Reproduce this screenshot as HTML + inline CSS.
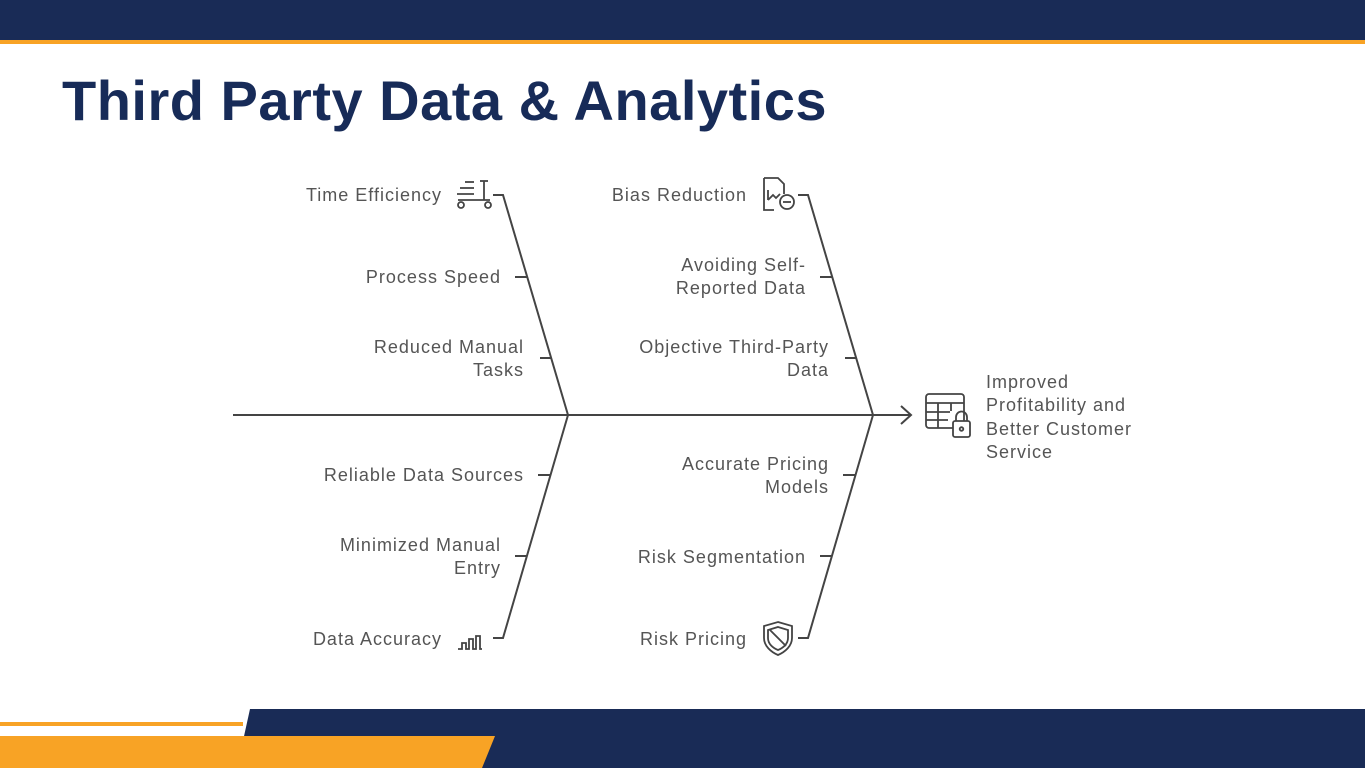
<!DOCTYPE html>
<html><head><meta charset="utf-8"><style>
body{margin:0;width:1365px;height:768px;overflow:hidden;background:#fff;position:relative;font-family:"Liberation Sans",sans-serif}
.t{position:absolute;left:62px;top:68px;font-size:56px;font-weight:bold;color:#172b58;letter-spacing:0.5px}
svg{position:absolute;left:0;top:0}
text{font-family:"Liberation Sans",sans-serif;font-size:18px;fill:#555;letter-spacing:1px}
</style></head><body>
<svg width="1365" height="768">
<rect x="0" y="0" width="1365" height="40" fill="#192b56"/>
<rect x="0" y="40" width="1365" height="4" fill="#f8a325"/>
<rect x="0" y="722" width="243" height="4" fill="#f8a325"/>
<polygon points="250,709 1365,709 1365,768 237,768" fill="#192b56"/>
<polygon points="0,736 495,736 482,768 0,768" fill="#f8a325"/>
</svg>
<div class="t">Third Party Data &amp; Analytics</div>
<svg width="1365" height="768" fill="none" stroke="#444" stroke-width="2">
<line x1="233" y1="415" x2="910" y2="415"/>
<polyline points="901,406 911,415 901,424"/>
<polyline points="493,195 503,195 568,415 503,638 493,638"/>
<polyline points="798,195 808,195 873,415 808,638 798,638"/>
<line x1="515" y1="277" x2="527" y2="277"/><line x1="540" y1="358" x2="551" y2="358"/>
<line x1="538" y1="475" x2="550" y2="475"/><line x1="515" y1="556" x2="527" y2="556"/>
<line x1="820" y1="277" x2="832" y2="277"/><line x1="845" y1="358" x2="856" y2="358"/>
<line x1="843" y1="475" x2="855" y2="475"/><line x1="820" y1="556" x2="832" y2="556"/>
<g stroke-width="1.8">
<line x1="465" y1="182" x2="474" y2="182"/><line x1="460" y1="188" x2="474" y2="188"/><line x1="457" y1="194" x2="474" y2="194"/>
<line x1="480" y1="181" x2="488" y2="181"/><line x1="484" y1="181" x2="484" y2="200"/>
<line x1="458" y1="200" x2="490" y2="200"/><circle cx="461" cy="205" r="3"/><circle cx="488" cy="205" r="3"/>
<path d="M458 649h4v-6h4v6h3v-10h4v10h3v-13h4v13h2"/>
<path d="M764 178h14l6 6v10M764 178v32h10"/><path d="M768 200v-10M768 200l5-5 3 3 4-4"/><circle cx="787" cy="202" r="7"/><line x1="783" y1="202" x2="791" y2="202"/>
<path d="M778 622l14 4v12c0 8-7 14-14 17c-7-3-14-9-14-17v-12z"/><path d="M778 627l10 3v8c0 6-5 10-10 12c-5-2-10-6-10-12v-8z"/><line x1="770" y1="630" x2="786" y2="646"/>
<rect x="926" y="394" width="38" height="34" rx="3"/><line x1="926" y1="403" x2="964" y2="403"/><line x1="926" y1="412" x2="950" y2="412"/><line x1="926" y1="420" x2="948" y2="420"/><line x1="938" y1="403" x2="938" y2="428"/><line x1="951" y1="403" x2="951" y2="411"/>
<rect x="953" y="421" width="17" height="16" rx="2" fill="#fff"/><path d="M956 421v-4a5.5 5.5 0 0 1 11 0v4"/><circle cx="961.5" cy="429" r="1.8"/>
</g>
</svg>
<svg width="1365" height="768">
<g text-anchor="end">
<text x="442" y="201">Time Efficiency</text>
<text x="501" y="283">Process Speed</text>
<text x="524" y="353">Reduced Manual</text><text x="524" y="376">Tasks</text>
<text x="524" y="481">Reliable Data Sources</text>
<text x="501" y="551">Minimized Manual</text><text x="501" y="574">Entry</text>
<text x="442" y="645">Data Accuracy</text>
<text x="747" y="201">Bias Reduction</text>
<text x="806" y="271">Avoiding Self-</text><text x="806" y="294">Reported Data</text>
<text x="829" y="353">Objective Third-Party</text><text x="829" y="376">Data</text>
<text x="829" y="470">Accurate Pricing</text><text x="829" y="493">Models</text>
<text x="806" y="563">Risk Segmentation</text>
<text x="747" y="645">Risk Pricing</text>
</g>
<text x="986" y="388">Improved</text>
<text x="986" y="411">Profitability and</text>
<text x="986" y="435">Better Customer</text>
<text x="986" y="458">Service</text>
</svg>
</body></html>
